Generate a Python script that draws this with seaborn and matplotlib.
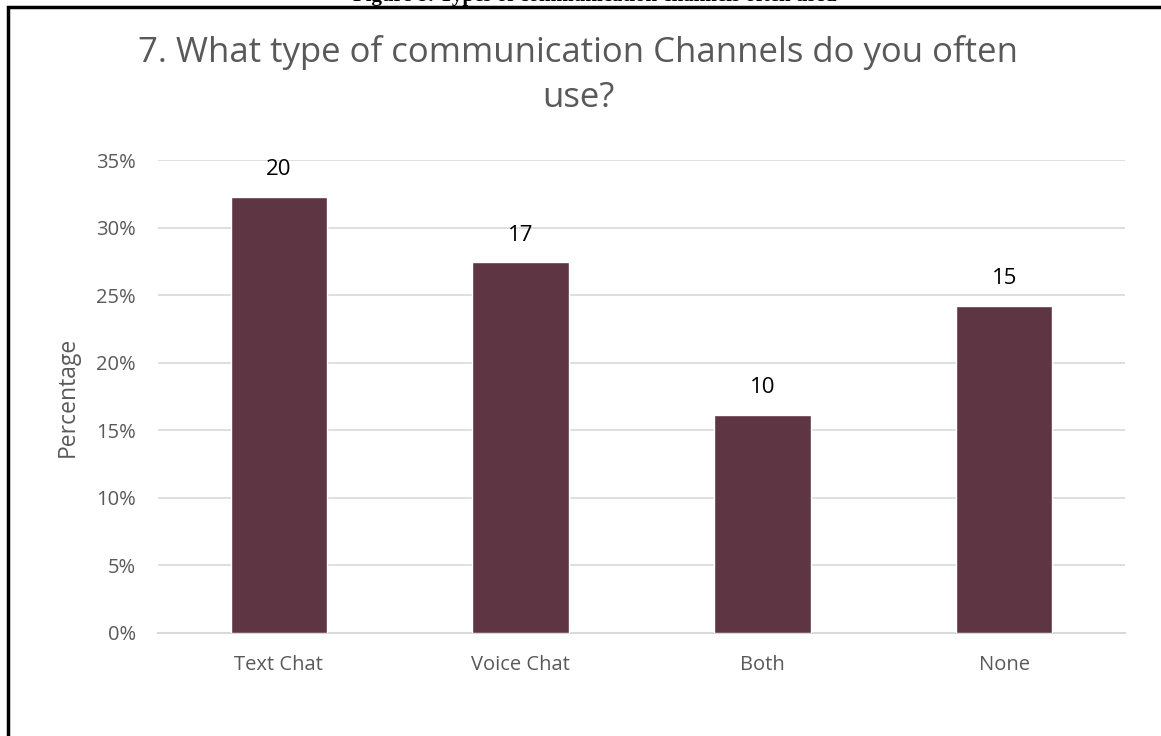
import matplotlib
matplotlib.use("Agg")
import matplotlib.pyplot as plt
import seaborn as sns
import pandas as pd
from matplotlib.ticker import PercentFormatter
from matplotlib.patches import Rectangle

categories = ["Text Chat", "Voice Chat", "Both", "None"]
counts = [20, 17, 10, 15]
total = sum(counts)
percentages = [c / total * 100 for c in counts]
y_ticks = [0, 5, 10, 15, 20, 25, 30, 35]

df = pd.DataFrame({"channel": categories, "pct": percentages, "count": counts})

sns.set_theme(style="white")
plt.rcParams["font.family"] = ["Open Sans", "DejaVu Sans"]

W, H = 1161, 736
fig = plt.figure(figsize=(W / 100, H / 100), dpi=100)

# axes placed in pixel coordinates
left, right, top, bottom = 158, 1125, 160, 633
ax = fig.add_axes([left / W, 1 - bottom / H, (right - left) / W, (bottom - top) / H])

sns.barplot(data=df, x="channel", y="pct", color="#5E3543", saturation=1,
            width=0.4, ax=ax, zorder=3)

ax.set_ylim(0, 35)
ax.set_xlim(-0.5, len(categories) - 0.5)
ax.set_yticks(y_ticks)
ax.yaxis.set_major_formatter(PercentFormatter(decimals=0))
ax.grid(axis="y", color="#D9D9D9", linewidth=1.2, zorder=0)
ax.grid(axis="x", visible=False)
for s in ["top", "right", "left"]:
    ax.spines[s].set_visible(False)
ax.spines["bottom"].set_color("#D9D9D9")
ax.spines["bottom"].set_linewidth(1.5)
ax.tick_params(axis="both", length=0, labelsize=14.5, colors="#595959")
ax.tick_params(axis="y", pad=16)
ax.tick_params(axis="x", pad=16)
ax.set_xlabel("")
ax.set_ylabel("Percentage", fontsize=16.5, color="#595959", labelpad=12)

for i, (p, c) in enumerate(zip(percentages, counts)):
    ax.annotate(str(c), (i, p), xytext=(0, 12), textcoords="offset points",
                ha="center", va="bottom", fontsize=16, color="#000000")

fig.text(578 / W, 1 - 52 / H, "7. What type of communication Channels do you often",
         ha="center", va="center", fontsize=25, color="#595959")
fig.text(578 / W, 1 - 98 / H, "use?", ha="center", va="center",
         fontsize=25, color="#595959")

# caption above the chart frame, partly outside the page
fig.text(595 / W, 1 - (-4) / H, "Figure 8: Types of communication channels often used",
         ha="center", va="center", fontsize=15, fontweight="bold",
         family=["Liberation Serif", "DejaVu Serif"], color="#000000")

# chart frame
fig.patches.append(Rectangle((8 / W, -0.05), (W + 20) / W, 1.05 - 7 / H,
                             transform=fig.transFigure, fill=False,
                             edgecolor="black", linewidth=2.5))

fig.savefig("out.png", dpi=100)
